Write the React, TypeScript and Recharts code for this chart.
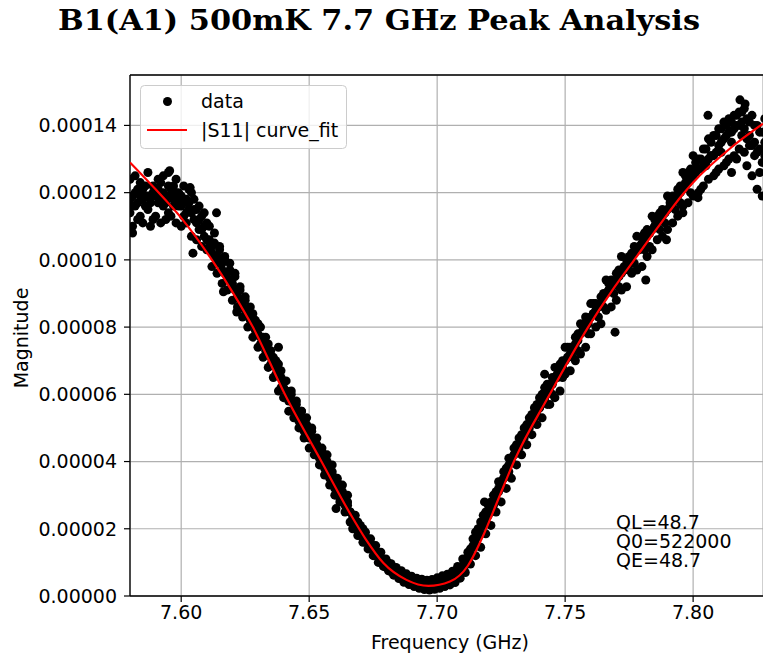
import React from "react";
import {
  ComposedChart,
  Scatter,
  XAxis,
  YAxis,
  CartesianGrid,
  ReferenceLine,
} from "recharts";

// frequency sweep (GHz)
const freq = [
  7.580, 7.581, 7.582, 7.583, 7.584, 7.585, 7.586, 7.587, 7.588, 7.589,
  7.590, 7.591, 7.592, 7.593, 7.594, 7.595, 7.596, 7.597, 7.598, 7.599,
  7.600, 7.601, 7.602, 7.603, 7.604, 7.605, 7.606, 7.607, 7.608, 7.609,
  7.610, 7.611, 7.612, 7.613, 7.614, 7.615, 7.616, 7.617, 7.618, 7.619,
  7.620, 7.621, 7.622, 7.623, 7.624, 7.625, 7.626, 7.627, 7.628, 7.629,
  7.630, 7.631, 7.632, 7.633, 7.634, 7.635, 7.636, 7.637, 7.638, 7.639,
  7.640, 7.641, 7.642, 7.643, 7.644, 7.645, 7.646, 7.647, 7.648, 7.649,
  7.650, 7.651, 7.652, 7.653, 7.654, 7.655, 7.656, 7.657, 7.658, 7.659,
  7.660, 7.661, 7.662, 7.663, 7.664, 7.665, 7.666, 7.667, 7.668, 7.669,
  7.670, 7.671, 7.672, 7.673, 7.674, 7.675, 7.676, 7.677, 7.678, 7.679,
  7.680, 7.681, 7.682, 7.683, 7.684, 7.685, 7.686, 7.687, 7.688, 7.689,
  7.690, 7.691, 7.692, 7.693, 7.694, 7.695, 7.696, 7.697, 7.698, 7.699,
  7.700, 7.701, 7.702, 7.703, 7.704, 7.705, 7.706, 7.707, 7.708, 7.709,
  7.710, 7.711, 7.712, 7.713, 7.714, 7.715, 7.716, 7.717, 7.718, 7.719,
  7.720, 7.721, 7.722, 7.723, 7.724, 7.725, 7.726, 7.727, 7.728, 7.729,
  7.730, 7.731, 7.732, 7.733, 7.734, 7.735, 7.736, 7.737, 7.738, 7.739,
  7.740, 7.741, 7.742, 7.743, 7.744, 7.745, 7.746, 7.747, 7.748, 7.749,
  7.750, 7.751, 7.752, 7.753, 7.754, 7.755, 7.756, 7.757, 7.758, 7.759,
  7.760, 7.761, 7.762, 7.763, 7.764, 7.765, 7.766, 7.767, 7.768, 7.769,
  7.770, 7.771, 7.772, 7.773, 7.774, 7.775, 7.776, 7.777, 7.778, 7.779,
  7.780, 7.781, 7.782, 7.783, 7.784, 7.785, 7.786, 7.787, 7.788, 7.789,
  7.790, 7.791, 7.792, 7.793, 7.794, 7.795, 7.796, 7.797, 7.798, 7.799,
  7.800, 7.801, 7.802, 7.803, 7.804, 7.805, 7.806, 7.807, 7.808, 7.809,
  7.810, 7.811, 7.812, 7.813, 7.814, 7.815, 7.816, 7.817, 7.818, 7.819,
  7.820, 7.821, 7.822, 7.823, 7.824, 7.825, 7.826, 7.827, 7.828,
];

// measured |S11|, sweep A, in units of 1e-6
const magnitudeA = [
  114, 119, 116, 121, 113, 118, 122, 115, 119, 112,
  120, 117, 123, 116, 119, 114, 121, 118, 124, 116,
  119, 113, 118, 115, 120, 112, 115, 109, 113, 107,
  111, 106, 104, 108, 101, 104, 99, 101, 96, 99,
  93, 95, 90, 92, 86, 89, 85, 82, 84, 79,
  81, 75, 77, 73, 75, 69, 71, 66, 69, 62,
  64, 61, 58, 60, 55, 57, 52, 55, 49, 51,
  47, 49, 44, 45, 41, 43, 38, 40, 35, 37,
  32, 34, 29, 31, 27, 28, 22, 24, 20, 22,
  18, 20, 16, 17, 14, 15, 12, 13, 10, 11,
  8.5, 9.8, 7.2, 8.4, 6.3, 7.4, 5.2, 6.1, 4.2, 5.3,
  3.8, 4.9, 3.3, 4.5, 2.9, 4.1, 2.6, 3.9, 2.5, 4.0,
  2.9, 4.4, 3.1, 4.9, 3.6, 5.6, 4.8, 6.9, 6.0, 8.5,
  8.2, 11, 10.5, 14, 15, 19, 18, 22, 21, 25,
  24, 28, 27, 31, 31, 34, 35, 38, 37, 41,
  42, 45, 44, 48, 47, 51, 50, 54, 53, 57,
  56, 60, 59, 63, 63, 60, 68, 65, 69, 65,
  74, 71, 74, 71, 77, 73, 81, 79, 83, 78,
  87, 84, 87, 83, 89, 86, 94, 91, 94, 90,
  96, 92, 101, 98, 100, 97, 102, 99, 107, 104,
  107, 103, 109, 104, 113, 110, 113, 109, 115, 111,
  119, 117, 119, 115, 121, 117, 126, 123, 126, 120,
  131, 127, 130, 121, 133, 128, 136, 131, 137, 126,
  139, 132, 141, 129, 142, 135, 143, 130, 144, 137,
  145, 128, 141, 125, 140, 121, 138, 119, 142,
];

// measured |S11|, sweep B, in units of 1e-6
const magnitudeB = [
  124, 110, 125, 112, 123, 111, 119, 126, 110, 122,
  113, 124, 111, 125, 112, 126, 113, 122, 111, 120,
  110, 122, 111, 121, 107, 118, 106, 116, 104, 114,
  103, 110, 98, 105, 96, 103, 93, 100, 91, 97,
  88, 96, 86, 91, 83, 88, 80, 86, 77, 82,
  74, 80, 71, 77, 68, 73, 65, 70, 61, 67,
  59, 64, 55, 61, 53, 58, 50, 55, 47, 53,
  44, 50, 42, 47, 39, 44, 36, 42, 33, 39,
  30, 35, 28, 33, 25, 30, 25, 20, 24, 18,
  21, 16, 19, 14, 17, 12, 15, 10, 13, 8.8,
  11, 7.5, 9.6, 6.2, 8.5, 5.2, 7.5, 4.1, 6.6, 3.4,
  5.9, 2.8, 5.3, 2.3, 5.0, 1.9, 4.7, 1.8, 4.9, 2.0,
  5.4, 2.3, 6.0, 2.8, 6.5, 3.3, 7.4, 4.0, 8.8, 5.3,
  11, 7.0, 13, 9.5, 17, 12, 20, 14.5, 24, 18.5,
  27, 21, 30, 25, 34, 28, 37, 32, 41, 35,
  44, 39, 47, 42, 50, 45, 53, 48, 56, 51,
  59, 53, 62, 57, 57, 65, 59, 66, 61, 70,
  66, 74, 67, 73, 70, 78, 72, 80, 74, 82,
  78, 87, 80, 86, 81, 90, 85, 93, 86, 93,
  88, 97, 91, 97, 92, 101, 96, 104, 97, 103,
  98, 108, 101, 108, 103, 112, 106, 114, 107, 114,
  109, 118, 111, 119, 113, 122, 116, 125, 117, 127,
  119, 129, 120, 130, 122, 133, 124, 135, 125, 137,
  127, 139, 128, 140, 130, 141, 131, 143, 133, 144,
  132, 142, 134, 143, 131, 140, 126, 138, 135,
];

// measured |S11|, sweep C, in units of 1e-6
const magnitudeC = [
  118, 116, 120, 117, 119, 121, 116, 119, 117, 120,
  119, 121, 118, 120, 117, 122, 119, 116, 120, 118,
  116, 117, 114, 117, 114, 115, 111, 112, 109, 110,
  106, 104, 102, 101, 100, 99, 97, 96, 94, 94,
  92, 91, 89, 88, 87, 85, 84, 83, 81, 81,
  78, 77, 75, 74, 72, 71, 69, 68, 66, 65,
  62, 61, 59, 58, 57, 55, 54, 53, 51, 50,
  48, 47, 45, 44, 42, 41, 40, 38, 37, 36,
  33, 32, 31, 30, 28, 27, 25, 23, 22, 21,
  19.5, 18.5, 17.5, 16, 15, 14, 13, 12, 11, 10,
  9.5, 8.6, 8.2, 7.4, 7.0, 6.3, 6.0, 5.3, 5.0, 4.4,
  4.5, 4.0, 4.1, 3.6, 3.8, 3.2, 3.4, 2.9, 3.4, 3.1,
  3.7, 3.5, 4.1, 3.8, 4.5, 4.3, 5.6, 5.4, 7.0, 6.8,
  9.0, 9.2, 11.5, 12, 14.5, 15.5, 17.5, 18.5, 21, 22,
  25, 26, 28, 29, 32, 33, 35, 36, 39, 40,
  42, 43, 45, 46, 48, 49, 51, 52, 54, 55,
  56, 58, 59, 61, 62, 63, 65, 66, 67, 68,
  70, 71, 72, 74, 75, 76, 78, 79, 80, 81,
  83, 84, 85, 86, 87, 89, 90, 91, 92, 93,
  94, 95, 96, 97, 98, 99, 101, 102, 103, 104,
  105, 106, 107, 108, 109, 110, 111, 112, 113, 114,
  115, 116, 117, 118, 119, 120, 121, 122, 123, 124,
  125, 126, 127, 127, 128, 129, 130, 131, 131, 132,
  134, 135, 136, 137, 138, 138, 139, 140, 140, 141,
  139, 136, 137, 134, 135, 132, 133, 129, 131,
];

// stray points off the main band
const strayFreq = [7.581, 7.5955, 7.6035, 7.6046, 7.6138, 7.6165, 7.6217, 7.638, 7.6476, 7.6605, 7.7185, 7.742, 7.7695, 7.7815, 7.7896, 7.796, 7.8019, 7.8058, 7.815, 7.8183, 7.8203];
const strayMag = [108, 126.5, 121.5, 102, 114, 90.5, 84.5, 74, 53, 26, 28, 66, 78.5, 94, 106, 114, 118.5, 143, 126, 147.6, 146.4];

// |S11| curve_fit, in units of 1e-6
const fitFreq = [7.58, 7.59, 7.6, 7.612, 7.62, 7.628, 7.6405, 7.6548, 7.666, 7.672, 7.679, 7.688, 7.6966, 7.705, 7.712, 7.718, 7.724, 7.73, 7.744, 7.759, 7.768, 7.777, 7.787, 7.796, 7.8, 7.815, 7.8273];
const fitMag = [129, 121, 112.5, 100, 90.5, 80, 60, 40, 24.5, 17, 9.8, 4.8, 3.0, 4.3, 9.0, 18, 29, 40, 60, 80, 90.5, 100, 110.5, 119.5, 123, 133.5, 140.5];

const xTicks = [7.6, 7.65, 7.7, 7.75, 7.8];
const yTicks = [0, 20, 40, 60, 80, 100, 120, 140];
const qLabels = ["QL=48.7", "Q0=522000", "QE=48.7"];

const FONT = "'DejaVu Sans', sans-serif";

const points = [magnitudeA, magnitudeB, magnitudeC]
  .flatMap((sweep) => freq.map((f, i) => ({ f, m: sweep[i] })))
  .concat(strayFreq.map((f, i) => ({ f, m: strayMag[i] })));
const fitData = fitFreq.map((f, i) => ({ f, m: fitMag[i] }));

const Dot = (p: any) => <circle cx={p.cx} cy={p.cy} r={4.5} fill="#000" />;
const NoDot = () => <g />;

export default function App() {
  const tick = { fill: "#000", fontSize: 19, fontFamily: FONT };
  return (
    <div style={{ position: "absolute", left: 0, top: 0, width: 763, height: 656, background: "#fff" }}>
      <ComposedChart
        width={763}
        height={656}
        margin={{ top: 75, right: 0, bottom: 0, left: 0 }}
      >
        <CartesianGrid stroke="#b0b0b0" strokeWidth={1.2} />
        <XAxis
          dataKey="f"
          type="number"
          domain={[7.58, 7.8273]}
          allowDataOverflow
          ticks={xTicks}
          tickFormatter={(v: number) => v.toFixed(2)}
          height={60}
          tickSize={6}
          tickMargin={4}
          tick={tick}
          axisLine={{ stroke: "#000", strokeWidth: 1.3 }}
          tickLine={{ stroke: "#000", strokeWidth: 1.2 }}
        />
        <YAxis
          dataKey="m"
          type="number"
          domain={[0, 155]}
          allowDataOverflow
          ticks={yTicks}
          tickFormatter={(v: number) => (v / 1e6).toFixed(5)}
          width={130}
          tickSize={6}
          tickMargin={7}
          tick={tick}
          axisLine={{ stroke: "#000", strokeWidth: 1.3 }}
          tickLine={{ stroke: "#000", strokeWidth: 1.2 }}
        />
        <ReferenceLine y={155} stroke="#000" strokeWidth={1.3} />
        <Scatter data={points} dataKey="m" shape={Dot} isAnimationActive={false} />
        {/* fit drawn as a second scatter so it sits above the data */}
        <Scatter
          data={fitData}
          dataKey="m"
          shape={NoDot}
          line={{ stroke: "#ff0000", strokeWidth: 2.2 }}
          lineType="joint"
          lineJointType="monotoneX"
          isAnimationActive={false}
        />
      </ComposedChart>
      <svg
        width={763}
        height={656}
        style={{ position: "absolute", left: 0, top: 0, pointerEvents: "none" }}
      >
        <text
          x={379}
          y={30}
          textAnchor="middle"
          fontFamily="'DejaVu Serif', serif"
          fontWeight="bold"
          fontSize={28}
          textLength={642}
          lengthAdjust="spacingAndGlyphs"
        >
          B1(A1) 500mK 7.7 GHz Peak Analysis
        </text>
        <text x={450} y={649} textAnchor="middle" fontFamily={FONT} fontSize={19}>
          Frequency (GHz)
        </text>
        <text
          x={28}
          y={338}
          textAnchor="middle"
          fontFamily={FONT}
          fontSize={19}
          transform="rotate(-90, 28, 338)"
        >
          Magnitude
        </text>
        <text x={616} y={529} fontFamily={FONT} fontSize={19}>
          {qLabels.map((t, i) => (
            <tspan key={t} x={616} dy={i === 0 ? 0 : 19}>
              {t}
            </tspan>
          ))}
        </text>
        <rect x={140.5} y={85.5} width={206} height={63} rx={4} fill="#fff" fillOpacity={0.8} stroke="#cccccc" />
        <circle cx={167.5} cy={101.5} r={4.5} fill="#000" />
        <line x1={147} y1={130} x2={187} y2={130} stroke="#ff0000" strokeWidth={2} />
        <text x={201} y={107.7} fontFamily={FONT} fontSize={19}>
          data
        </text>
        <text x={201} y={137} fontFamily={FONT} fontSize={19}>
          |S11| curve_fit
        </text>
      </svg>
    </div>
  );
}
